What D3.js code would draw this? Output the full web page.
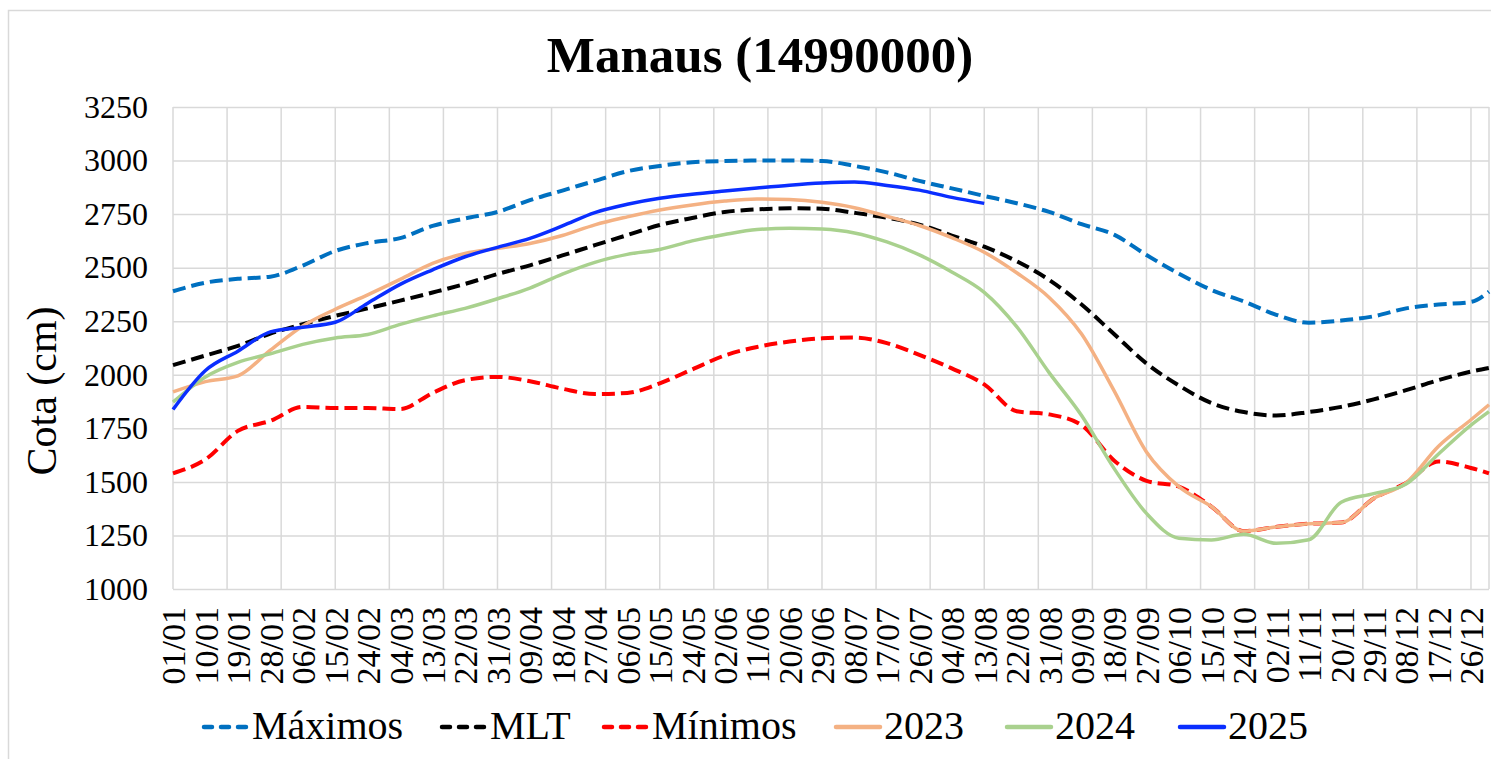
<!DOCTYPE html>
<html>
<head>
<meta charset="utf-8">
<title>Manaus (14990000)</title>
<script src="https://d3js.org/d3.v7.min.js"></script>
<style>
  body { margin: 0; background: #fff; }
  svg text { font-family: "Liberation Serif", "DejaVu Serif", serif; fill: #000; }
</style>
</head>
<body>
<div id="chart"></div>
<script>
// day of year (leap year, 0 = 01/01) for every reading
var days = [0, 9, 18, 27, 36, 45, 54, 63, 72, 81, 90, 99, 108, 117, 126, 135, 144, 153, 162, 171,
            180, 189, 198, 207, 216, 225, 234, 243, 252, 261, 270, 279, 288, 297, 306, 315, 324, 333,
            342, 351, 360, 365];

var tickLabels = ["01/01", "10/01", "19/01", "28/01", "06/02", "15/02", "24/02", "04/03", "13/03",
                  "22/03", "31/03", "09/04", "18/04", "27/04", "06/05", "15/05", "24/05", "02/06",
                  "11/06", "20/06", "29/06", "08/07", "17/07", "26/07", "04/08", "13/08", "22/08",
                  "31/08", "09/09", "18/09", "27/09", "06/10", "15/10", "24/10", "02/11", "11/11",
                  "20/11", "29/11", "08/12", "17/12", "26/12"];

var yTicks = [1000, 1250, 1500, 1750, 2000, 2250, 2500, 2750, 3000, 3250];

var maximos = [2390, 2430, 2448, 2458, 2510, 2578, 2615, 2638, 2695, 2730, 2760, 2815, 2860, 2905,
               2950, 2975, 2992, 2998, 3000, 3000, 2998, 2975, 2945, 2905, 2870, 2835, 2801, 2760,
               2703, 2654, 2559, 2472, 2396, 2342, 2280, 2243, 2253, 2273, 2310, 2328, 2340, 2388];

var mlt = [2045, 2090, 2135, 2192, 2236, 2275, 2310, 2346, 2384, 2424, 2470, 2511, 2557, 2605,
           2652, 2699, 2732, 2760, 2772, 2777, 2775, 2756, 2733, 2701, 2650, 2598, 2530, 2443,
           2328, 2190, 2053, 1950, 1868, 1826, 1810, 1826, 1850, 1885, 1928, 1975, 2015, 2032];

var minimos = [1540, 1605, 1738, 1785, 1850, 1845, 1845, 1840, 1915, 1975, 1990, 1970, 1935, 1910,
               1915, 1960, 2025, 2090, 2130, 2155, 2170, 2174, 2148, 2093, 2030, 1955, 1830, 1815,
               1765, 1600, 1505, 1478, 1385, 1270, 1290, 1305, 1310, 1422, 1495, 1595, 1565, 1540];

var y2023 = [1920, 1968, 1995, 2115, 2228, 2306, 2373, 2445, 2520, 2566, 2590, 2613, 2650, 2700,
             2737, 2769, 2793, 2811, 2821, 2818, 2805, 2780, 2740, 2697, 2640, 2572, 2476, 2361,
             2190, 1926, 1640, 1478, 1385, 1270, 1290, 1305, 1310, 1422, 1495, 1666, 1790, 1860];

var y2024 = [1872, 1990, 2058, 2098, 2142, 2172, 2188, 2235, 2275, 2310, 2355, 2405, 2470, 2525,
             2562, 2585, 2625, 2655, 2678, 2684, 2680, 2662, 2620, 2560, 2480, 2385, 2225, 2010,
             1810, 1563, 1353, 1237, 1229, 1255, 1213, 1230, 1405, 1445, 1490, 1630, 1765, 1828];

var y2025 = [1838, 2020, 2110, 2200, 2222, 2245, 2334, 2422, 2490, 2551, 2595, 2637, 2695, 2757,
             2796, 2824, 2843, 2858, 2872, 2885, 2895, 2900, 2884, 2862, 2828, 2800];

var series = [
  {name: "Máximos", values: maximos, color: "#0070C0", dash: true},
  {name: "MLT", values: mlt, color: "#000000", dash: true},
  {name: "Mínimos", values: minimos, color: "#FF0000", dash: true},
  {name: "2023", values: y2023, color: "#F4B183", dash: false},
  {name: "2024", values: y2024, color: "#A9D18E", dash: false},
  {name: "2025", values: y2025, color: "#0A2EFF", dash: false}
];

var W = 1491, H = 759;
var plot = {left: 173, right: 1489, top: 107, bottom: 589};

var svg = d3.select("#chart").append("svg")
  .attr("width", W)
  .attr("height", H);

// chart frame
svg.append("rect")
  .attr("x", 8.5).attr("y", 10.5)
  .attr("width", 1500).attr("height", 800)
  .attr("fill", "none")
  .attr("stroke", "#d9d9d9")
  .attr("stroke-width", 1.5);

var x = d3.scaleLinear().domain([0, 365]).range([plot.left, plot.right]);
var y = d3.scaleLinear().domain([1000, 3250]).range([plot.bottom, plot.top]);

// vertical grid, every 15 days
svg.append("g")
  .selectAll("line")
  .data(d3.range(0, 361, 15).concat([365]))
  .enter().append("line")
    .attr("x1", function(d) { return x(d); })
    .attr("x2", function(d) { return x(d); })
    .attr("y1", plot.top)
    .attr("y2", plot.bottom)
    .attr("stroke", "#d9d9d9")
    .attr("stroke-width", 1.5);

// y axis + horizontal grid
var yAxis = svg.append("g")
  .attr("transform", "translate(" + plot.left + ",0)")
  .call(d3.axisLeft(y)
    .tickValues(yTicks)
    .tickFormat(d3.format("d"))
    .tickSize(-(plot.right - plot.left))
    .tickPadding(25));
yAxis.select(".domain").remove();
yAxis.selectAll("line").attr("stroke", "#d9d9d9").attr("stroke-width", 1.5);
yAxis.selectAll("text")
  .style("font-family", "'Liberation Serif', serif")
  .style("font-size", "32px")
  .attr("fill", "#000");

// x axis labels
var xAxis = svg.append("g")
  .attr("transform", "translate(0," + plot.bottom + ")")
  .call(d3.axisBottom(x)
    .tickValues(days.slice(0, tickLabels.length))
    .tickFormat(function(d, i) { return tickLabels[i]; })
    .tickSize(0));
xAxis.select(".domain").remove();
xAxis.selectAll("text")
  .attr("transform", "rotate(-90)")
  .attr("x", -18)
  .attr("y", 0)
  .attr("dy", "0.35em")
  .attr("text-anchor", "end")
  .attr("fill", "#000")
  .style("font-family", "'Liberation Serif', serif")
  .style("font-size", "34px");

// lines
var line = d3.line()
  .x(function(d, i) { return x(days[i]); })
  .y(function(d) { return y(d); })
  .curve(d3.curveMonotoneX);

svg.append("g")
  .selectAll("path")
  .data(series)
  .enter().append("path")
    .attr("d", function(s) { return line(s.values); })
    .attr("fill", "none")
    .attr("stroke", function(s) { return s.color; })
    .attr("stroke-width", function(s) { return s.dash ? 4 : 3.5; })
    .attr("stroke-dasharray", function(s) { return s.dash ? "13,6" : null; })
    .attr("stroke-linejoin", "round");

// title
svg.append("text")
  .attr("x", 760)
  .attr("y", 72)
  .attr("text-anchor", "middle")
  .style("font-size", "51px")
  .style("font-weight", "bold")
  .text("Manaus (14990000)");

// y label
svg.append("text")
  .attr("transform", "translate(56,391) rotate(-90)")
  .attr("text-anchor", "middle")
  .style("font-size", "42px")
  .text("Cota (cm)");

// legend
var legendX = [202, 440, 602, 834, 1005, 1178];
var legend = svg.append("g")
  .selectAll("g")
  .data(series)
  .enter().append("g")
    .attr("transform", function(s, i) { return "translate(" + legendX[i] + ",727)"; });

legend.append("line")
  .attr("x1", 2).attr("x2", 46)
  .attr("stroke", function(s) { return s.color; })
  .attr("stroke-width", 4.5)
  .attr("stroke-linecap", "round")
  .attr("stroke-dasharray", function(s) { return s.dash ? "8,9" : null; });

legend.append("text")
  .attr("x", 50)
  .attr("y", 12)
  .style("font-size", "40px")
  .text(function(s) { return s.name; });
</script>
</body>
</html>
